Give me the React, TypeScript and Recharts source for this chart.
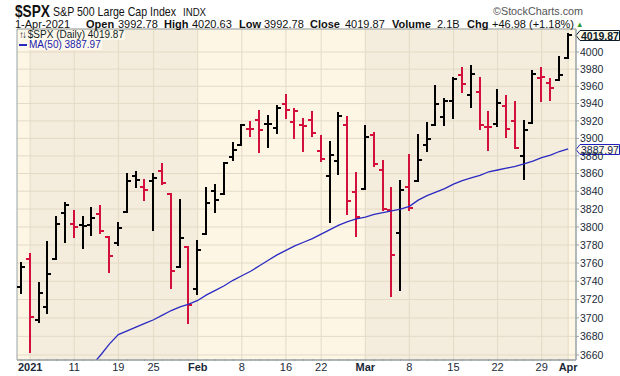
import {
  ComposedChart, Bar, Line, XAxis, YAxis, CartesianGrid, ReferenceArea, ReferenceLine,
} from "recharts";

const dates = [
  "2020-12-31",
  "2021-01-04", "2021-01-05", "2021-01-06", "2021-01-07", "2021-01-08", "2021-01-11", "2021-01-12",
  "2021-01-13", "2021-01-14", "2021-01-15", "2021-01-19", "2021-01-20", "2021-01-21", "2021-01-22",
  "2021-01-25", "2021-01-26", "2021-01-27", "2021-01-28", "2021-01-29",
  "2021-02-01", "2021-02-02", "2021-02-03", "2021-02-04", "2021-02-05", "2021-02-08", "2021-02-09",
  "2021-02-10", "2021-02-11", "2021-02-12", "2021-02-16", "2021-02-17", "2021-02-18", "2021-02-19",
  "2021-02-22", "2021-02-23", "2021-02-24", "2021-02-25", "2021-02-26",
  "2021-03-01", "2021-03-02", "2021-03-03", "2021-03-04", "2021-03-05", "2021-03-08", "2021-03-09",
  "2021-03-10", "2021-03-11", "2021-03-12", "2021-03-15", "2021-03-16", "2021-03-17", "2021-03-18",
  "2021-03-19", "2021-03-22", "2021-03-23", "2021-03-24", "2021-03-25", "2021-03-26", "2021-03-29",
  "2021-03-30", "2021-03-31",
  "2021-04-01",
];

const opens = [
  3733.27,
  3764.61, 3698.02, 3712.2, 3764.71, 3815.05, 3803.14, 3801.62, 3802.23, 3814.98, 3788.73,
  3781.88, 3816.22, 3857.46, 3844.24, 3851.68, 3862.96, 3836.83, 3755.75, 3778.05,
  3731.17, 3791.84, 3840.27, 3836.66, 3878.3, 3892.59, 3910.49, 3920.78, 3916.4, 3911.65,
  3939.61, 3918.5, 3915.86, 3921.16, 3885.55, 3857.07, 3873.71, 3915.8, 3839.66,
  3842.51, 3903.64, 3863.99, 3818.53, 3793.58, 3844.39, 3851.93, 3891.99, 3915.54, 3924.52,
  3942.96, 3973.59, 3949.57, 3953.5, 3913.14, 3916.48, 3937.6, 3919.93, 3879.34, 3917.12,
  3969.31, 3963.34, 3967.25,
  3992.78,
];

const highs = [
  3760.2,
  3769.99, 3737.83, 3783.04, 3811.55, 3826.69, 3817.86, 3810.78, 3820.96, 3823.6, 3788.73,
  3804.53, 3859.75, 3861.45, 3852.31, 3859.23, 3870.9, 3836.83, 3830.5, 3778.05,
  3784.32, 3843.09, 3847.51, 3872.42, 3894.56, 3915.77, 3918.35, 3931.5, 3925.99, 3937.23,
  3950.43, 3933.61, 3921.98, 3930.41, 3902.92, 3895.98, 3928.65, 3925.02, 3861.08,
  3914.5, 3906.41, 3874.47, 3843.67, 3851.69, 3881.06, 3903.76, 3917.35, 3960.27, 3944.99,
  3970.08, 3981.04, 3983.87, 3969.62, 3930.12, 3955.31, 3949.13, 3942.08, 3919.54, 3978.19,
  3981.83, 3968.01, 3994.41,
  4020.63,
];

const lows = [
  3726.88,
  3662.71, 3695.07, 3705.34, 3764.71, 3783.6, 3789.02, 3776.51, 3791.5, 3792.86, 3749.62,
  3780.37, 3816.22, 3845.05, 3830.41, 3797.16, 3847.78, 3732.48, 3755.75, 3694.12,
  3725.62, 3791.84, 3816.68, 3836.66, 3874.93, 3892.59, 3902.64, 3884.94, 3890.39, 3905.78,
  3923.85, 3900.43, 3885.03, 3903.07, 3874.71, 3805.59, 3859.6, 3814.04, 3789.54,
  3842.51, 3868.57, 3818.86, 3723.34, 3730.19, 3819.25, 3851.93, 3885.73, 3915.54, 3915.21,
  3923.54, 3953.44, 3935.74, 3910.86, 3886.75, 3914.16, 3901.57, 3889.07, 3853.5, 3917.12,
  3943.25, 3944.35, 3966.98,
  3992.78,
];

const closes = [
  3756.07,
  3700.65, 3726.86, 3748.14, 3803.79, 3824.68, 3799.61, 3801.19, 3809.84, 3795.54, 3768.25,
  3798.91, 3851.85, 3853.07, 3841.47, 3855.36, 3849.62, 3750.77, 3787.38, 3714.24,
  3773.86, 3826.31, 3830.17, 3871.74, 3886.83, 3915.59, 3911.23, 3909.88, 3916.38, 3934.83,
  3932.59, 3931.33, 3913.97, 3906.71, 3876.5, 3881.37, 3925.43, 3829.34, 3811.15,
  3901.82, 3870.29, 3819.72, 3768.47, 3841.94, 3821.35, 3875.44, 3898.81, 3939.34, 3943.34,
  3968.94, 3962.71, 3974.12, 3915.46, 3913.1, 3940.59, 3910.52, 3889.14, 3909.52, 3974.54,
  3971.09, 3958.55, 3972.89,
  4019.87,
];

// 50-day moving average (below the visible range before mid-January)
const ma50 = [
  null, null, null, null, null, null, null, null,
  3649, 3660, 3672, 3682, 3686, 3690, 3694, 3698, 3703, 3708, 3712, 3715,
  3719, 3725, 3730, 3735, 3741, 3746, 3751, 3757, 3763, 3769, 3774, 3779, 3783, 3787,
  3792, 3797, 3802, 3806, 3809,
  3811, 3814, 3816, 3818, 3820, 3823, 3830, 3835, 3839, 3843, 3848, 3852, 3855, 3858,
  3862, 3864, 3866, 3868, 3871, 3874, 3878, 3881, 3885,
  3887.97,
];

const prevClose = 3732.04; // 30-Dec-2020 close, for the colour of the first bar

const xTickIdx = [0, 5, 10, 14, 19, 24, 29, 33, 38, 43, 48, 53, 58, 61];
const xTickLabels = ["2021", "11", "19", "25", "Feb", "8", "16", "22", "Mar", "8", "15", "22", "29", "Apr"];
const yTicks = [
  3660, 3680, 3700, 3720, 3740, 3760, 3780, 3800, 3820, 3840, 3860, 3880, 3900, 3920, 3940, 3960, 3980, 4000,
];
// shaded months: Jan and Mar (from first bar of month to first bar of next month)
const shadedMonths = [[0, 19], [38, 61]];

const X_MIN = -1.49;
const X_MAX = 61.89;
const Y_MIN = 3654.6;
const Y_MAX = 4027.1;

const UP = "#000000";
const DOWN = "#d3103b";
const MA_COLOR = "#2a2ac2";
const GRID = "#e4dac6";
const BORDER = "#98a3a6";
const AXIS_TEXT = "#1b2a38";
const FONT = "'Liberation Sans', Arial, sans-serif";

const rows = dates.map((d, k) => ({
  i: k - 1,
  date: d,
  o: opens[k],
  h: highs[k],
  l: lows[k],
  c: closes[k],
  ma: ma50[k],
  up: closes[k] >= (k ? closes[k - 1] : prevClose),
}));

const last = rows[rows.length - 1];

function OhlcBar(props: any) {
  const { x, y, width, height, payload } = props;
  if (x == null || y == null || !payload) return null;
  const top = Math.min(y, y + height);
  const bot = Math.max(y, y + height);
  const cx = Math.round(x + width / 2);
  const lh = Math.log(payload.h);
  const ll = Math.log(payload.l);
  const py = (v: number) => Math.round(top + ((bot - top) * (lh - Math.log(v))) / (lh - ll || 1));
  const color = payload.up ? UP : DOWN;
  return (
    <g stroke={color} strokeWidth={2} shapeRendering="crispEdges">
      <line x1={cx} x2={cx} y1={Math.round(top) - 1} y2={Math.round(bot) + 1} />
      <line x1={cx - 4} x2={cx} y1={py(payload.o)} y2={py(payload.o)} />
      <line x1={cx} x2={cx + 4} y1={py(payload.c)} y2={py(payload.c)} />
    </g>
  );
}

function XTick(props: any) {
  const { x, y, payload } = props;
  const k = xTickIdx.indexOf(payload.value);
  const label = k >= 0 ? xTickLabels[k] : "";
  const bold = label === "2021" || (label !== "" && isNaN(Number(label)));
  return (
    <g>
      <line x1={x} x2={x} y1={y - 1} y2={y + 1} stroke={BORDER} />
      {label && (
        <text x={x} y={y + 11} textAnchor="middle" fontSize={11} fontFamily={FONT}
          fontWeight={bold ? "bold" : "normal"} fill={AXIS_TEXT}>
          {label}
        </text>
      )}
    </g>
  );
}

function PriceTag(props: any) {
  const { viewBox, text, color, bold } = props;
  if (!viewBox) return null;
  const x = viewBox.x + viewBox.width;
  const y = Math.round(viewBox.y) + 0.5;
  const left = x + 4;
  const right = 619.5;
  return (
    <g>
      <path d={`M${x},${y} L${left},${y - 5} L${right},${y - 5} L${right},${y + 5} L${left},${y + 5} Z`}
        fill="#fdf8e8" stroke={color} />
      <text x={left + 1} y={y + 4} fontSize={10.5} fontFamily={FONT} fontWeight={bold ? "bold" : "normal"}
        fill={bold ? "#0d1c28" : "#101a50"}>
        {text}
      </text>
    </g>
  );
}

export default function App() {
  return (
    <div style={{ position: "absolute", left: 0, top: 0, width: 620, height: 376, background: "#fff", fontFamily: FONT }}>
      <ComposedChart width={620} height={376} data={rows} margin={{ top: 29, right: 0, bottom: 0, left: 17 }}>
        <ReferenceArea x1={X_MIN} x2={X_MAX} y1={Y_MIN} y2={Y_MAX} fill="#fdf6e4" fillOpacity={1} stroke="none" zIndex={-160} />
        {shadedMonths.map(([a, b]) => (
          <ReferenceArea key={a} x1={a} x2={b} y1={Y_MIN} y2={Y_MAX} fill="#f4ecdc" fillOpacity={1} stroke="none" zIndex={-150} />
        ))}
        <CartesianGrid vertical={false} stroke={GRID} />
        {xTickIdx.map((t) => (
          <ReferenceLine key={t} x={t} stroke={GRID} zIndex={-90} />
        ))}
        <XAxis dataKey="i" type="number" domain={[X_MIN, X_MAX]} allowDataOverflow
          ticks={rows.map((r) => r.i)} interval={0} tick={<XTick />} tickLine={false}
          tickSize={0} tickMargin={0} height={16} axisLine={{ stroke: BORDER }} />
        <YAxis orientation="right" scale="log" domain={[Y_MIN, Y_MAX]} allowDataOverflow ticks={yTicks}
          interval={0} width={44} tickSize={3} tickMargin={1} axisLine={{ stroke: BORDER }}
          tickLine={{ stroke: BORDER }} tick={{ fontSize: 10.5, fill: AXIS_TEXT, fontFamily: FONT }} />
        <Bar dataKey={(d: any) => [d.l, d.h]} barSize={8} shape={<OhlcBar />} isAnimationActive={false} />
        <Line dataKey="ma" type="linear" stroke={MA_COLOR} strokeWidth={1.3} dot={false} activeDot={false}
          isAnimationActive={false} />
        <ReferenceArea x1={X_MIN} x2={X_MAX} y1={Y_MIN} y2={Y_MAX} fill="none" stroke={BORDER} />
        <ReferenceLine y={last.c} stroke="none"
          label={<PriceTag text={last.c.toFixed(2)} color="#0d1c28" bold />} />
        <ReferenceLine y={last.ma as number} stroke="none"
          label={<PriceTag text={(last.ma as number).toFixed(2)} color="#2020c0" />} />
      </ComposedChart>

      <svg width={620} height={30} style={{ position: "absolute", left: 0, top: 0 }} fontFamily={FONT}>
        <text x={15} y={17} fontSize={17} fontWeight="bold" fill="#111" textLength={35} lengthAdjust="spacingAndGlyphs">$SPX</text>
        <text x={53} y={16} fontSize={13} fill="#111" textLength={123} lengthAdjust="spacingAndGlyphs">S&amp;P 500 Large Cap Index</text>
        <text x={183} y={16} fontSize={11} fill="#111" textLength={23} lengthAdjust="spacingAndGlyphs">INDX</text>
        <text x={493} y={15} fontSize={11.5} fill="#555" textLength={90} lengthAdjust="spacingAndGlyphs">©StockCharts.com</text>
        <g fontSize={11} fill="#111">
          <text x={15} y={27.5}>1-Apr-2021</text>
          <text x={86} y={27.5} fontWeight="bold">Open</text>
          <text x={118} y={27.5}>3992.78</text>
          <text x={164} y={27.5} fontWeight="bold">High</text>
          <text x={192} y={27.5}>4020.63</text>
          <text x={239} y={27.5} fontWeight="bold">Low</text>
          <text x={264} y={27.5}>3992.78</text>
          <text x={310} y={27.5} fontWeight="bold">Close</text>
          <text x={345} y={27.5}>4019.87</text>
          <text x={392} y={27.5} fontWeight="bold">Volume</text>
          <text x={437} y={27.5}>2.1B</text>
          <text x={467} y={27.5} fontWeight="bold">Chg</text>
          <text x={492} y={27.5}>+46.98 (+1.18%)</text>
          <text x={576} y={26.5} fontSize={7.5} fill="#2a9a2a">▲</text>
        </g>
      </svg>

      <div style={{ position: "absolute", left: 18, top: 30, fontSize: 10, lineHeight: "10px", fontFamily: FONT }}>
        <div style={{ background: "#fdf8ea", color: "#0d1c28", padding: "0 1px", display: "inline-block", whiteSpace: "nowrap" }}>
          <span style={{ letterSpacing: -2 }}>↑↓</span> $SPX (Daily) 4019.87
        </div>
        <br />
        <div style={{ background: "#fdf8ea", color: "#1a1ab0", padding: "0 1px", display: "inline-block", whiteSpace: "nowrap" }}>
          <span style={{ display: "inline-block", width: 8, height: 2, background: MA_COLOR, verticalAlign: "middle", marginRight: 2 }} />
          MA(50) 3887.97
        </div>
      </div>
    </div>
  );
}
